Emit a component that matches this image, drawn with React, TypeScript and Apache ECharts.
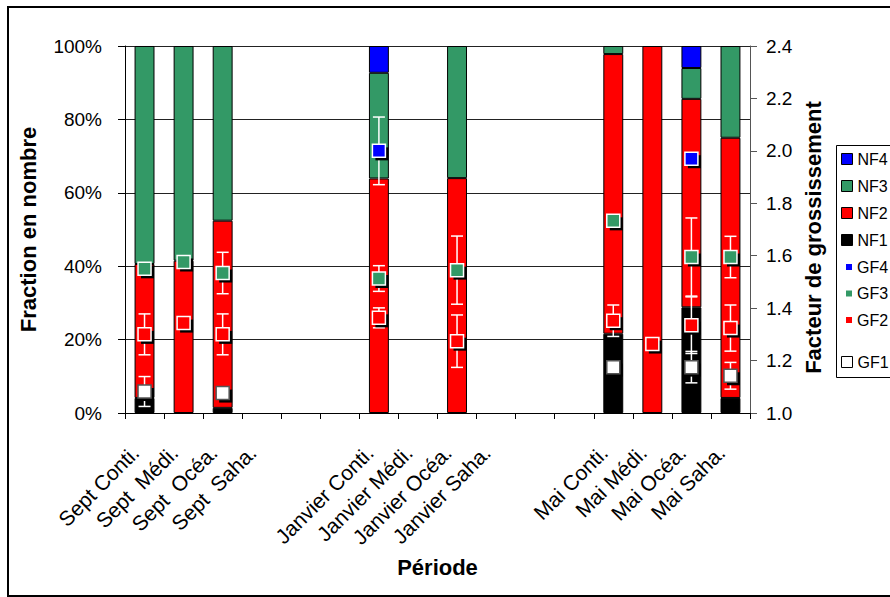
import React, { useEffect, useRef } from "react";
import * as echarts from "echarts";

const categories = [
  "Sept Conti.", "Sept  Médi.", "Sept  Océa.", "Sept  Saha.", " ", "  ",
  "Janvier Conti.", "Janvier Médi.", "Janvier Océa.", "Janvier Saha.", "   ", "    ",
  "Mai Conti.", "Mai Médi.", "Mai Océa.", "Mai Saha.",
];

// Fraction en nombre (%), stacked
const nf1 = [4.1, null, 1.4, null, null, null, null, null, null, null, null, null, 21.6, null, 28.8, 4.1];
const nf2 = [36.5, 41.5, 51.0, null, null, null, 63.9, null, 64.0, null, null, null, 76.2, 100, 56.8, 70.9];
const nf3 = [59.4, 58.5, 47.6, null, null, null, 28.8, null, 36.0, null, null, null, 2.2, null, 8.4, 25.0];
const nf4 = [null, null, null, null, null, null, 7.3, null, null, null, null, null, null, null, 6.0, null];

// Facteur de grossissement (right axis) and error half-widths
const gf1 = [1.082, null, 1.076, null, null, null, null, null, null, null, null, null, 1.175, null, 1.175, 1.142];
const gf1Err = [0.057, null, null, null, null, null, null, null, null, null, null, null, null, null, 0.06, 0.051];
const gf2 = [1.30, 1.343, 1.30, null, null, null, 1.363, null, 1.274, null, null, null, 1.352, 1.263, 1.335, 1.324];
const gf2Err = [0.078, null, 0.078, null, null, null, 0.038, null, 0.10, null, null, null, 0.06, null, 0.108, 0.088];
const gf3 = [1.55, 1.576, 1.534, null, null, null, 1.513, null, 1.545, null, null, null, 1.733, null, 1.595, 1.595];
const gf3Err = [null, null, 0.079, null, null, null, 0.049, null, 0.13, null, null, null, null, null, 0.149, 0.079];
const gf4 = [null, null, null, null, null, null, 2.0, null, null, null, null, null, null, null, 1.97, null];
const gf4Err = [null, null, null, null, null, null, 0.129, null, null, null, null, null, null, null, null, null];

const leftTicks = { min: 0, max: 100, interval: 20 };
const rightTicks = { min: 1.0, max: 2.4, interval: 0.2 };

const BLUE = "#0000ff";
const GREEN = "#339966";
const RED = "#ff0000";
const BLACK = "#000000";
const FONT = "'Liberation Sans', Arial, sans-serif";

function errData(vals: (number | null)[], errs: (number | null)[]) {
  const out: number[][] = [];
  vals.forEach((v, i) => {
    const e = errs[i];
    if (v != null && e != null) out.push([i, v - e, v + e]);
  });
  return out;
}

function shadowData() {
  const out: number[][] = [];
  [gf1, gf2, gf3, gf4].forEach((arr) =>
    arr.forEach((v, i) => {
      if (v != null) out.push([i, v]);
    })
  );
  return out;
}

export default function App() {
  const ref = useRef<HTMLDivElement>(null);
  useEffect(() => {
    if (!ref.current) return;
    const chart = echarts.init(ref.current, undefined, { renderer: "svg" });

    const barSeries = (name: string, data: (number | null)[], color: string) => ({
      name,
      type: "bar",
      stack: "nf",
      yAxisIndex: 0,
      barWidth: "51%",
      data,
      z: 2,
      itemStyle: { color, borderColor: "#000", borderWidth: 1 },
    });

    const errSeries = (name: string, vals: (number | null)[], errs: (number | null)[]) => ({
      name: name + "err",
      type: "custom",
      xAxisIndex: 0,
      yAxisIndex: 1,
      z: 3,
      silent: true,
      encode: { x: 0, y: [1, 2] },
      data: errData(vals, errs),
      renderItem: (params: any, api: any) => {
        const x = api.value(0);
        const pLo = api.coord([x, api.value(1)]);
        const pHi = api.coord([x, api.value(2)]);
        const cx = pLo[0];
        const w = 6;
        const st = { stroke: "#ffffff", lineWidth: 1.5 };
        return {
          type: "group",
          children: [
            { type: "line", shape: { x1: cx, y1: pHi[1], x2: cx, y2: pLo[1] }, style: st },
            { type: "line", shape: { x1: cx - w, y1: pHi[1], x2: cx + w, y2: pHi[1] }, style: st },
            { type: "line", shape: { x1: cx - w, y1: pLo[1], x2: cx + w, y2: pLo[1] }, style: st },
          ],
        };
      },
    });

    const markerSeries = (name: string, data: (number | null)[], color: string, border: string) => ({
      name,
      type: "scatter",
      yAxisIndex: 1,
      symbol: "rect",
      symbolSize: 13,
      z: 5,
      data,
      itemStyle: { color, borderColor: border, borderWidth: 1.5, opacity: 1 },
    });

    const legendText = { fontSize: 16, color: "#000", fontFamily: FONT };

    chart.setOption({
      animation: false,
      textStyle: { fontFamily: FONT },
      grid: { left: 125, right: 140, top: 46, bottom: 184 },
      legend: [
        {
          orient: "vertical",
          left: 841,
          top: 151,
          padding: 0,
          itemWidth: 11,
          itemHeight: 11,
          itemGap: 11,
          icon: "rect",
          selectedMode: false,
          textStyle: legendText,
          data: [
            { name: "NF4", itemStyle: { color: BLUE, borderColor: "#000", borderWidth: 1 } },
            { name: "NF3", itemStyle: { color: GREEN, borderColor: "#000", borderWidth: 1 } },
            { name: "NF2", itemStyle: { color: RED, borderColor: "#000", borderWidth: 1 } },
            { name: "NF1", itemStyle: { color: BLACK, borderColor: "#000", borderWidth: 1 } },
          ],
        },
        {
          orient: "vertical",
          left: 846,
          top: 259,
          padding: 0,
          itemWidth: 6,
          itemHeight: 6,
          itemGap: 10.5,
          icon: "rect",
          selectedMode: false,
          textStyle: legendText,
          data: [
            { name: "GF4", itemStyle: { color: BLUE, borderWidth: 0 } },
            { name: "GF3", itemStyle: { color: GREEN, borderWidth: 0 } },
            { name: "GF2", itemStyle: { color: RED, borderWidth: 0 } },
          ],
        },
        {
          orient: "vertical",
          left: 841,
          top: 354,
          padding: 0,
          itemWidth: 11,
          itemHeight: 11,
          icon: "rect",
          selectedMode: false,
          textStyle: legendText,
          data: [{ name: "GF1", itemStyle: { color: "#fff", borderColor: "#000", borderWidth: 1 } }],
        },
      ],
      graphic: [
        {
          type: "rect",
          z: 0,
          silent: true,
          shape: { x: 8, y: 7, width: 900, height: 589 },
          style: { fill: "none", stroke: "#000", lineWidth: 2 },
        },
        {
          type: "rect",
          z: 0,
          silent: true,
          shape: { x: 836.5, y: 145.5, width: 80, height: 232 },
          style: { fill: "none", stroke: "#000", lineWidth: 1 },
        },
      ],
      xAxis: {
        type: "category",
        data: categories,
        name: "Période",
        nameLocation: "middle",
        nameGap: 143,
        nameMoveOverlap: false,
        nameTextStyle: { fontSize: 22, fontWeight: "bold", color: "#000", fontFamily: FONT },
        axisLine: { lineStyle: { color: "#000", width: 1 } },
        axisTick: { show: true, length: 6, lineStyle: { color: "#000" } },
        axisLabel: {
          interval: 0,
          rotate: 45,
          fontSize: 21,
          color: "#000",
          margin: 27,
          padding: [0, 13, 0, 0],
          fontFamily: FONT,
        },
        splitLine: { show: false },
      },
      yAxis: [
        {
          type: "value",
          ...leftTicks,
          position: "left",
          name: "Fraction en nombre",
          nameLocation: "middle",
          nameGap: 86,
          nameMoveOverlap: false,
          nameTextStyle: { fontSize: 22, fontWeight: "bold", color: "#000", fontFamily: FONT },
          axisLine: { show: true, lineStyle: { color: "#000" } },
          axisTick: { show: true, length: 7, lineStyle: { color: "#000" } },
          axisLabel: {
            formatter: "{value}%",
            fontSize: 19,
            color: "#000",
            margin: 23,
            fontFamily: FONT,
          },
          splitLine: { show: true, lineStyle: { color: "#222", width: 1 } },
        },
        {
          type: "value",
          ...rightTicks,
          position: "right",
          name: "Facteur de grossissement",
          nameLocation: "middle",
          nameGap: 52,
          nameMoveOverlap: false,
          nameTextStyle: {
            fontSize: 22,
            fontWeight: "bold",
            color: "#000",
            fontFamily: FONT,
            padding: [0, 16, 0, 0],
          },
          axisLine: { show: true, lineStyle: { color: "#555" } },
          axisTick: { show: true, length: 7, lineStyle: { color: "#555" } },
          axisLabel: {
            formatter: (v: number) => v.toFixed(1),
            fontSize: 19,
            color: "#000",
            margin: 16,
            fontFamily: FONT,
          },
          splitLine: { show: false },
        },
      ],
      series: [
        barSeries("NF1", nf1, BLACK),
        barSeries("NF2", nf2, RED),
        barSeries("NF3", nf3, GREEN),
        barSeries("NF4", nf4, BLUE),
        errSeries("GF1", gf1, gf1Err),
        errSeries("GF2", gf2, gf2Err),
        errSeries("GF3", gf3, gf3Err),
        errSeries("GF4", gf4, gf4Err),
        {
          name: "shadow",
          type: "scatter",
          yAxisIndex: 1,
          symbol: "rect",
          symbolSize: 13,
          symbolOffset: [3, 3],
          z: 4,
          silent: true,
          data: shadowData(),
          itemStyle: { color: "#000", opacity: 1 },
        },
        markerSeries("GF1", gf1, "#ffffff", "#555555"),
        markerSeries("GF2", gf2, RED, "#ffffff"),
        markerSeries("GF3", gf3, GREEN, "#ffffff"),
        markerSeries("GF4", gf4, BLUE, "#ffffff"),
      ],
    });
    return () => chart.dispose();
  }, []);

  return (
    <div
      ref={ref}
      style={{ position: "absolute", left: 0, top: 0, width: 890, height: 597, background: "#fff" }}
    />
  );
}
